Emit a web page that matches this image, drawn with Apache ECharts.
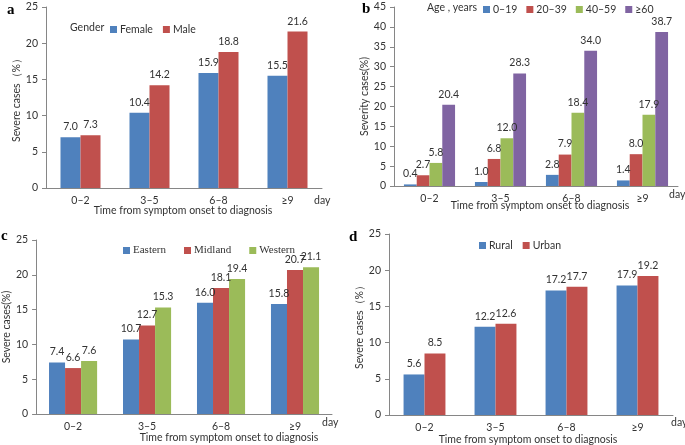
<!DOCTYPE html>
<html>
<head>
<meta charset="utf-8">
<title>Severe cases by time from onset to diagnosis</title>
<script src="https://cdn.jsdelivr.net/npm/echarts@6/dist/echarts.min.js"></script>
<style>
  html, body { margin: 0; padding: 0; background: #fff; }
  #main { width: 685px; height: 445px; }
</style>
</head>
<body>
<div id="main"></div>
<script type="text/javascript">
// categories (shared by all four panels)
var days = ['0\u20132', '3\u20135', '6\u20138', '\u22659'];

// panel a: gender
var female = [7.0, 10.4, 15.9, 15.5];
var male = [7.3, 14.2, 18.8, 21.6];

// panel b: age groups
var age0_19 = [0.4, 1.0, 2.8, 1.4];
var age20_39 = [2.7, 6.8, 7.9, 8.0];
var age40_59 = [5.8, 12.0, 18.4, 17.9];
var age60 = [20.4, 28.3, 34.0, 38.7];

// panel c: region
var eastern = [7.4, 10.7, 16.0, 15.8];
var midland = [6.6, 12.7, 18.1, 20.7];
var western = [7.6, 15.3, 19.4, 21.1];

// panel d: residence
var rural = [5.6, 12.2, 17.2, 17.9];
var urban = [8.5, 12.6, 17.7, 19.2];

var BLUE = '#4F81BD', RED = '#C0504D', GREEN = '#9BBB59', PURPLE = '#8064A2';
var FONT = 'Lato';
var TXT = '#333';
var FS = 10.5;

var chart = echarts.init(document.getElementById('main'));

function xAx(idx) {
    return {
        type: 'category', gridIndex: idx, data: days,
        axisLine: { lineStyle: { color: '#868686' } },
        axisTick: { lineStyle: { color: '#868686' }, length: 4 },
        axisLabel: { color: TXT, fontFamily: FONT, fontSize: FS, margin: 7 }
    };
}
function yAx(idx, max, name, gap) {
    return {
        type: 'value', gridIndex: idx, min: 0, max: max, interval: 5,
        name: name, nameLocation: 'middle', nameGap: gap,
        nameTextStyle: { color: TXT, fontFamily: FONT, fontSize: FS },
        splitLine: { show: false },
        axisLine: { show: true, lineStyle: { color: '#868686' } },
        axisTick: { show: true, lineStyle: { color: '#868686' }, length: 4 },
        axisLabel: { color: TXT, fontFamily: FONT, fontSize: FS, margin: 8 }
    };
}
function bar(name, data, color, idx, gapCat) {
    return {
        name: name, type: 'bar', data: data,
        xAxisIndex: idx, yAxisIndex: idx,
        barGap: '0%', barCategoryGap: gapCat,
        itemStyle: { color: color },
        label: {
            show: true, position: 'top', distance: 5,
            color: TXT, fontFamily: FONT, fontSize: FS,
            formatter: function (p) { return p.value.toFixed(1); }
        }
    };
}
function legendAt(names, left, top, extra) {
    var l = {
        data: names, left: left, top: top, orient: 'horizontal', padding: 0,
        icon: 'rect', itemWidth: 7, itemHeight: 7, itemGap: 10,
        textStyle: { color: TXT, fontFamily: FONT, fontSize: FS, padding: [0, 0, 0, -2] }
    };
    for (var k in extra) l[k] = extra[k];
    return l;
}

// free texts: panel letters, axis titles, "day", legend captions
var texts = [
    ['a', 7, 3, 'left', true], ['b', 362, 2, 'left', true],
    ['c', 1, 229, 'left', true], ['d', 349, 230, 'left', true],
    ['Time from symptom onset to diagnosis', 183, 205, 'center'],
    ['Time from symptom onset to diagnosis', 540, 200, 'center'],
    ['Time from symptom onset to diagnosis', 229, 432, 'center'],
    ['Time from symptom onset to diagnosis', 528, 434, 'center'],
    ['day', 314, 195, 'left'], ['day', 669, 189, 'left'],
    ['day', 322, 417, 'left'], ['day', 671, 417, 'left'],
    ['Gender', 70, 22, 'left'], ['Age , years', 427, 2, 'left']
];
var graphics = texts.map(function (t) {
    var letter = t[4] === true;
    return {
        type: 'text', x: t[1], y: t[2],
        style: {
            text: t[0], textAlign: t[3],
            fill: letter ? '#000' : TXT,
            font: letter ? 'bold 15px "Liberation Serif"' : FS + 'px ' + FONT
        }
    };
});

var option = {
    animation: false,
    backgroundColor: '#fff',
    grid: [
        { left: 46, top: 7, width: 276, height: 181 },
        { left: 394, top: 7, width: 284, height: 179 },
        { left: 32, top: 240, width: 300, height: 174 },
        { left: 389, top: 234, width: 284, height: 181 }
    ],
    xAxis: [xAx(0), xAx(1), xAx(2), xAx(3)],
    yAxis: [
        yAx(0, 25, 'Severe cases\uff08%\uff09', 16),
        yAx(1, 45, 'Severity cases(%)', 14),
        yAx(2, 25, 'Severe cases(%)', 18),
        yAx(3, 25, 'Severe cases\uff08%\uff09', 18)
    ],
    legend: [
        legendAt(['Female', 'Male'], 110, 24, {}),
        legendAt(['0\u201319', '20\u201339', '40\u201359', '\u226560'], 483, 4, { itemGap: 9 }),
        legendAt(['Eastern', 'Midland', 'Western'], 123, 245, {
            itemGap: 18,
            textStyle: { color: TXT, fontFamily: 'Liberation Serif', fontSize: 11, padding: [0, 0, 0, -2] }
        }),
        legendAt(['Rural', 'Urban'], 479, 240, {})
    ],
    graphic: graphics,
    series: [
        bar('Female', female, BLUE, 0, '42%'),
        bar('Male', male, RED, 0, '42%'),
        bar('0\u201319', age0_19, BLUE, 1, '28%'),
        bar('20\u201339', age20_39, RED, 1, '28%'),
        bar('40\u201359', age40_59, GREEN, 1, '28%'),
        bar('\u226560', age60, PURPLE, 1, '28%'),
        bar('Eastern', eastern, BLUE, 2, '35%'),
        bar('Midland', midland, RED, 2, '35%'),
        bar('Western', western, GREEN, 2, '35%'),
        bar('Rural', rural, BLUE, 3, '41%'),
        bar('Urban', urban, RED, 3, '41%')
    ]
};
chart.setOption(option);
</script>
</body>
</html>
